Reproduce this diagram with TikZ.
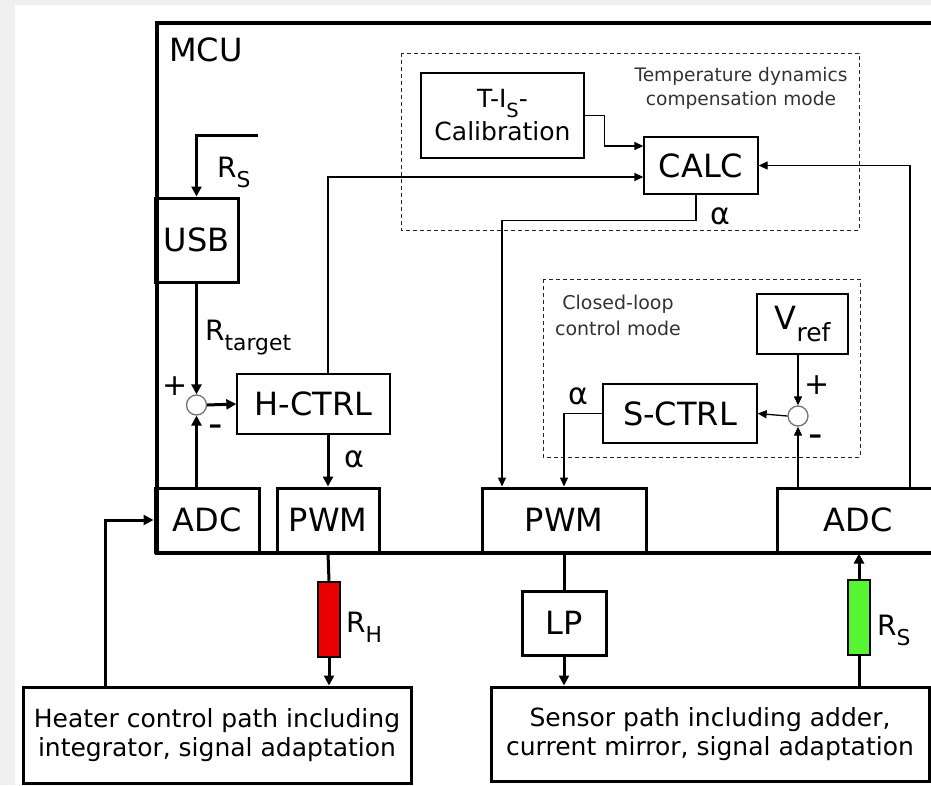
\documentclass[tikz,border=0pt]{standalone}
\usepackage{fontspec}
\usepackage{graphicx}
\setmainfont{DejaVu Sans}
\usetikzlibrary{arrows.meta}
\definecolor{bggray}{RGB}{240,240,240}
\definecolor{rsgreen}{RGB}{85,245,50}
\definecolor{rhred}{RGB}{235,0,0}
\newcommand{\subtxt}[1]{\raisebox{-0.38em}{\scalebox{0.78}{#1}}}

\begin{document}
\begin{tikzpicture}[x=1pt,y=-1pt,
  bigbox/.style={draw,line width=3pt,inner sep=0pt,font=\fontsize{32}{32}\selectfont},
  smallbox/.style={draw,line width=1.3pt,inner sep=0pt,font=\fontsize{32}{32}\selectfont},
  pathbox/.style={draw,line width=3pt,inner sep=0pt,align=center,font=\fontsize{25}{29}\selectfont},
  modebox/.style={draw=black!85,line width=1pt,dash pattern=on 4pt off 3pt},
  modetxt/.style={align=center,inner sep=0pt,text=black!80,font=\fontsize{18.6}{24}\selectfont},
  sumnode/.style={circle,draw=black!55,line width=1.3pt,minimum size=20pt,inner sep=0pt,fill=white},
  res/.style={draw,line width=2.5pt,minimum width=22pt,minimum height=75pt,inner sep=0pt},
  lbl/.style={inner sep=0pt,font=\fontsize{28}{28}\selectfont},
  sign/.style={inner sep=0pt,font=\fontsize{30}{30}\selectfont},
  minus/.style={inner sep=0pt,font=\fontsize{40}{40}\selectfont},
  sig/.style={line width=3pt},
  sigarr/.style={line width=3pt,-{Triangle[length=10pt,width=10pt]}},
  datarr/.style={line width=1.3pt,-{Triangle[length=9pt,width=8pt]}},
]
\useasboundingbox (0,0) rectangle (931,785);
\clip (0,0) rectangle (931,785);
\fill[bggray] (0,0) rectangle (931,785);
\fill[white] (15,5) rectangle (931,785);

% controller frame
\node[draw,line width=3.5pt,anchor=north west,minimum width=805pt,minimum height=530pt] (mcu) at (155,21) {};
\node[anchor=west,inner sep=0pt,font=\fontsize{32}{32}\selectfont] (mcutxt) at (169,50) {MCU};

% operating modes
\draw[modebox] (401,53) rectangle (859,230);
\draw[modebox] (543,279) rectangle (860,457);
\node[modetxt] (tdtxt) at (741,88) {Temperature dynamics\\compensation mode};
\node[modetxt,font=\fontsize{19}{26}\selectfont] (cltxt) at (618,315) {Closed-loop\\control mode};

% blocks
\node[bigbox,minimum width=83pt,minimum height=84pt] (usb) at (196.5,240) {USB};
\node[bigbox,minimum width=104pt,minimum height=64pt] (adch) at (207,520) {ADC};
\node[bigbox,minimum width=102pt,minimum height=64pt] (pwmh) at (328,520) {PWM};
\node[bigbox,minimum width=164pt,minimum height=64pt] (pwms) at (564,520) {PWM};
\node[bigbox,minimum width=162pt,minimum height=64pt] (adcs) at (858,520) {ADC};
\node[bigbox,minimum width=84pt,minimum height=64pt] (lp) at (564,623) {LP};
\node[smallbox,minimum width=153pt,minimum height=60pt] (hctrl) at (313.5,404) {H-CTRL};
\node[smallbox,minimum width=154pt,minimum height=59pt] (sctrl) at (680,413.5) {S-CTRL};
\node[smallbox,minimum width=114pt,minimum height=57pt] (calc) at (701,165.5) {CALC};
\node[smallbox,minimum width=163pt,minimum height=85pt,align=center,font=\fontsize{25}{33}\selectfont] (calib) at (502.5,115.5) {T-I\subtxt{S}-\\Calibration};
\node[smallbox,minimum width=91pt,minimum height=60pt] (vref) at (802.5,324) {V\subtxt{ref}};
\node[pathbox,minimum width=388pt,minimum height=96pt] (heater) at (217,735) {Heater control path including\\integrator, signal adaptation};
\node[pathbox,minimum width=438pt,minimum height=94pt] (sensor) at (710,734) {Sensor path including adder,\\current mirror, signal adaptation};
\node[res,fill=rhred] (rh) at (329,619.5) {};
\node[res,fill=rsgreen] (rs) at (859,617.5) {};
\node[sumnode] (sumh) at (196.5,405) {};
\node[sumnode] (sums) at (798,416) {};

% heater loop
\coordinate (rsin) at (258,135);
\draw[sigarr] (rsin) -| (usb.north);
\draw[sigarr] (usb.south) -- (sumh.north);
\draw[sigarr] (adch.north -| sumh) -- (sumh.south);
\draw[sigarr] (sumh.east) -- (hctrl.west);
\draw[sigarr] (hctrl.south -| pwmh) -- (pwmh.north);
\draw[sig] (pwmh.south) -- (rh.north);
\draw[sigarr] (rh.south) -- (rh.south |- heater.north);
\draw[sigarr] ([xshift=-112pt]heater.north) |- (adch.west);

% compensation
\draw[datarr] (hctrl.north -| pwmh) |- ([yshift=-11.5pt]calc.west);
\draw[datarr] (calib.east) -- ++(20,0) |- ([yshift=19.5pt]calc.west);
\draw[datarr] ([xshift=52pt]adcs.north) |- (calc.east);
\draw[datarr] ([xshift=-5pt]calc.south) -- ++(0,26) -| ([xshift=-62pt]pwms.north);

% sensor loop
\draw[datarr] (vref.south -| sums) -- (sums.north);
\draw[datarr] (adcs.north -| sums) -- (sums.south);
\draw[datarr] (sums.west) -- (sctrl.east);
\draw[datarr] (sctrl.west) -| (pwms.north);
\draw[sig] (pwms.south) -- (lp.north);
\draw[sigarr] (lp.south) -- (lp.south |- sensor.north);
\draw[sig] (sensor.north -| rs) -- (rs.south);
\draw[sigarr] (rs.north) -- (rs.north |- adcs.south);

% labels
\node[lbl,anchor=base west] (rslbl) at (217,177) {R\subtxt{S}};
\node[lbl,anchor=base west] (rtlbl) at (205,340) {R\subtxt{target}};
\node[sign] (plh) at (175,386) {+};
\node[minus] (mih) at (216,431) {-};
\node[sign] (alh) at (354,459) {α};
\node[sign] (alc) at (720,216) {α};
\node[sign] (als) at (578,396) {α};
\node[sign] (pls) at (817,385) {+};
\node[minus] (mis) at (816,441) {-};
\node[lbl,anchor=base west] (rhlbl) at (346,632) {R\subtxt{H}};
\node[lbl,anchor=base west] (rslbl2) at (877,635) {R\subtxt{S}};
\end{tikzpicture}
\end{document}
